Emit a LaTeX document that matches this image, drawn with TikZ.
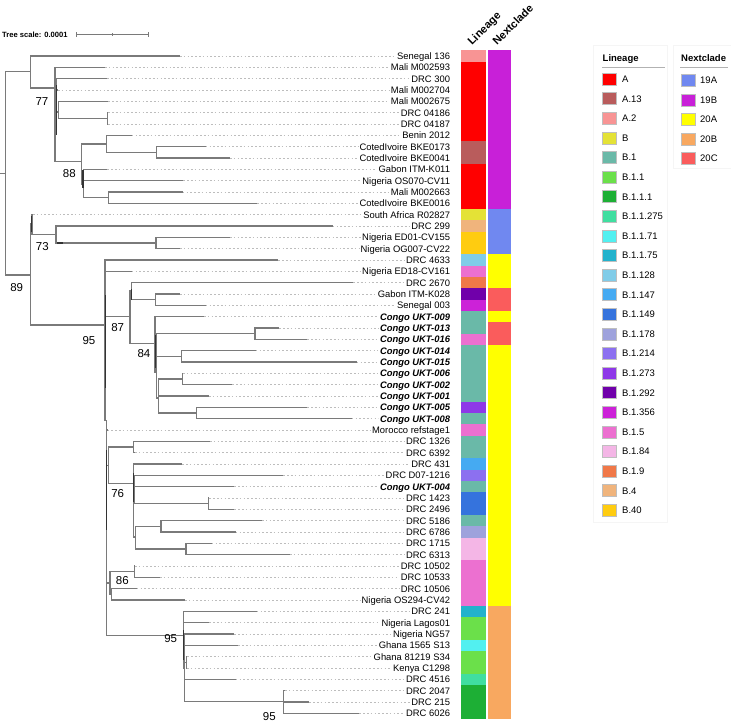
\documentclass[tikz,border=0pt]{standalone}
\usepackage{fontspec}
\setmainfont{Liberation Sans}
\definecolor{treegray}{HTML}{7A7A7A}
\definecolor{dotgray}{HTML}{BDBDBD}
\definecolor{cA}{HTML}{FF0000}
\definecolor{cAxiii}{HTML}{B95C5C}
\definecolor{cAii}{HTML}{F89494}
\definecolor{cB}{HTML}{E4E236}
\definecolor{cBi}{HTML}{6AB9A8}
\definecolor{cBii}{HTML}{6BE04A}
\definecolor{cBiii}{HTML}{1DAF35}
\definecolor{cBiiCCLXXV}{HTML}{40DEA0}
\definecolor{cBiiLXXI}{HTML}{52F0F0}
\definecolor{cBiiLXXV}{HTML}{22B2CC}
\definecolor{cBiCXXVIII}{HTML}{80CCE8}
\definecolor{cBiCXLVII}{HTML}{45AAF2}
\definecolor{cBiCXLIX}{HTML}{3573DD}
\definecolor{cBiCLXXVIII}{HTML}{9EA2DC}
\definecolor{cBiCCXIV}{HTML}{8C70F0}
\definecolor{cBiCCLXXIII}{HTML}{8E38E8}
\definecolor{cBiCCXCII}{HTML}{7000AA}
\definecolor{cBiCCCLVI}{HTML}{CC22D8}
\definecolor{cBiV}{HTML}{EC70D0}
\definecolor{cBiLXXXIV}{HTML}{F4B6E6}
\definecolor{cBiIX}{HTML}{F07848}
\definecolor{cBIV}{HTML}{F0B47C}
\definecolor{cBXL}{HTML}{FFCC10}
\definecolor{nxA}{HTML}{7088F0}
\definecolor{nxB}{HTML}{C820D8}
\definecolor{nyA}{HTML}{FFFF00}
\definecolor{nyB}{HTML}{F8A860}
\definecolor{nyC}{HTML}{FA5C5C}
\newcommand\lfn{\fontsize{9.4}{10}\selectfont}
\newcommand\lfc{\fontsize{9.4}{10}\selectfont\bfseries\itshape}
\begin{document}
\begin{tikzpicture}[x=1pt,y=-1pt,
  br/.style={draw=treegray,line width=1.1pt},
  dk/.style={draw=black!80,line width=1.2pt},
  dotl/.style={draw=dotgray,line width=0.8pt,dash pattern=on 1.6pt off 2.2pt},
  labn/.style={anchor=east,inner xsep=1.5pt,inner ysep=0pt,text height=6.8pt,text depth=0pt},
  boot/.style={font=\fontsize{11.5}{12}\selectfont,inner sep=0pt},
  sw/.style={draw=black!25,line width=0.4pt,minimum width=14pt,minimum height=12pt,inner sep=0pt},
  legl/.style={anchor=west,font=\fontsize{9.5}{10}\selectfont,inner sep=0pt,text height=6.8pt,text depth=0pt},
  legt/.style={anchor=west,font=\fontsize{9.5}{10}\selectfont\bfseries,inner sep=0pt,text height=7pt,text depth=2pt},
  hdr/.style={font=\fontsize{11}{12}\selectfont\bfseries,inner sep=0pt,rotate=45,anchor=base west}
]
\useasboundingbox (0,0) rectangle (731,723);
\fill[white] (0,0) rectangle (731,723);

% tree scale
\node[anchor=west,inner sep=0pt,font=\fontsize{7.6}{8}\selectfont\bfseries] (ts) at (2,34.3) {Tree scale: 0.0001};
\coordinate (s1) at (76,34.3);
\coordinate (s2) at (148.3,34.3);
\coordinate (s3) at (112.2,34.3);
\draw[treegray,line width=0.7pt] (s1) -- (s2);
\draw[treegray,line width=0.7pt] ([yshift=-2.5pt]s1) -- ([yshift=2.5pt]s1);
\draw[treegray,line width=0.7pt] ([yshift=-2.5pt]s2) -- ([yshift=2.5pt]s2);
\draw[treegray,line width=0.6pt] ([yshift=-1.2pt]s3) -- ([yshift=1.2pt]s3);

% color strips
\foreach \a/\b/\c in {1/1/cAii,2/8/cA,9/10/cAxiii,11/14/cA,15/15/cB,16/16/cBIV,17/18/cBXL,19/19/cBiCXXVIII,
  20/20/cBiV,21/21/cBiIX,22/22/cBiCCXCII,23/23/cBiCCCLVI,24/25/cBi,26/26/cBiV,27/31/cBi,32/32/cBiCCLXXIII,
  33/33/cBi,34/34/cBiV,35/36/cBi,37/37/cBiCXLVII,38/38/cBiCCXIV,39/39/cBi,40/41/cBiCXLIX,42/42/cBi,
  43/43/cBiCLXXVIII,44/45/cBiLXXXIV,46/49/cBiV,50/50/cBiiLXXV,51/52/cBii,53/53/cBiiLXXI,54/55/cBii,
  56/56/cBiiCCLXXV,57/59/cBiii}
  \fill[\c] (461,{50.33+11.333*(\a-1)}) rectangle (485.7,{50.33+11.333*\b});
\foreach \a/\b/\c in {1/14/nxB,15/18/nxA,19/21/nyA,22/23/nyC,24/24/nyA,25/26/nyC,27/49/nyA,50/59/nyB}
  \fill[\c] (487.7,{50.33+11.333*(\a-1)}) rectangle (511,{50.33+11.333*\b});

% headers
\node[hdr] (hL) at (472,46) {Lineage};
\node[hdr] (hN) at (497,46) {Nextclade};

% leaves
\foreach \i/\tx/\lab/\st in {
1/180/Senegal 136/\lfn,
2/105/Mali M002593/\lfn,
3/107.3/DRC 300/\lfn,
4/58/Mali M002704/\lfn,
5/108.3/Mali M002675/\lfn,
6/108.3/DRC 04186/\lfn,
7/108.3/DRC 04187/\lfn,
8/131.7/Benin 2012/\lfn,
9/205.7/CotedIvoire BKE0173/\lfn,
10/230/CotedIvoire BKE0041/\lfn,
11/107.3/Gabon ITM-K011/\lfn,
12/183.3/Nigeria OS070-CV11/\lfn,
13/182.7/Mali M002663/\lfn,
14/257.3/CotedIvoire BKE0016/\lfn,
15/33/South Africa R02827/\lfn,
16/332.7/DRC 299/\lfn,
17/230/Nigeria ED01-CV155/\lfn,
18/180/Nigeria OG007-CV22/\lfn,
19/278.3/DRC 4633/\lfn,
20/131.7/Nigeria ED18-CV161/\lfn,
21/353.3/DRC 2670/\lfn,
22/180/Gabon ITM-K028/\lfn,
23/205.7/Senegal 003/\lfn,
24/204/Congo UKT-009/\lfc,
25/279.3/Congo UKT-013/\lfc,
26/307.3/Congo UKT-016/\lfc,
27/255.7/Congo UKT-014/\lfc,
28/356.7/Congo UKT-015/\lfc,
29/183/Congo UKT-006/\lfc,
30/232.3/Congo UKT-002/\lfc,
31/209/Congo UKT-001/\lfc,
32/307.3/Congo UKT-005/\lfc,
33/351.7/Congo UKT-008/\lfc,
34/107.5/Morocco refstage1/\lfn,
35/210/DRC 1326/\lfn,
36/135/DRC 6392/\lfn,
37/182.2/DRC 431/\lfn,
38/283.3/DRC D07-1216/\lfn,
39/234.3/Congo UKT-004/\lfc,
40/209.3/DRC 1423/\lfn,
41/234.3/DRC 2496/\lfn,
42/262/DRC 5186/\lfn,
43/235.7/DRC 6786/\lfn,
44/211.7/DRC 1715/\lfn,
45/290/DRC 6313/\lfn,
46/135/DRC 10502/\lfn,
47/160/DRC 10533/\lfn,
48/136.7/DRC 10506/\lfn,
49/185/Nigeria OS294-CV42/\lfn,
50/256.7/DRC 241/\lfn,
51/209.3/Nigeria Lagos01/\lfn,
52/234.3/Nigeria NG57/\lfn,
53/238.3/Ghana 1565 S13/\lfn,
54/187.3/Ghana 81219 S34/\lfn,
55/187/Kenya C1298/\lfn,
56/235.7/DRC 4516/\lfn,
57/285/DRC 2047/\lfn,
58/309.3/DRC 215/\lfn,
59/359.3/DRC 6026/\lfn}
{
  \coordinate (T\i) at (\tx,{56+11.333*(\i-1)});
  \node[labn] (L\i) at (451.7,{56+11.333*(\i-1)}) {\st\lab};
  \draw[dotl] (T\i) -- (L\i.west);
}

% internal nodes
\coordinate (R0) at (0,173.3);
\coordinate (R) at (5.7,173.3);
\coordinate (NA) at (30.7,71.7);
\coordinate (NA1) at (55,88);
\coordinate (NA2) at (56.8,100);
\coordinate (NA3) at (58.5,112);
\coordinate (N0418) at (107.3,118.3);
\coordinate (N88) at (81.7,161.7);
\coordinate (NB) at (106.7,144);
\coordinate (NC) at (156.7,152.3);
\coordinate (N88b) at (83.2,184);
\coordinate (NM) at (108.3,197.7);
\coordinate (N89) at (30.7,275);
\coordinate (N89a) at (32,224);
\coordinate (N73) at (56,234.7);
\coordinate (NED) at (156,243);
\coordinate (N95) at (105,325);
\coordinate (N87) at (130,316.7);
\coordinate (N87a) at (131.5,291);
\coordinate (NG) at (155.7,299.7);
\coordinate (N84) at (155,343.3);
\coordinate (N84b) at (156.6,372);
\coordinate (N013) at (255,333.7);
\coordinate (N014) at (181.7,356.3);
\coordinate (N84c) at (158.3,398);
\coordinate (N006) at (182.3,379);
\coordinate (N005) at (196.7,413);
\coordinate (N95i) at (106.3,420);
\coordinate (N76p) at (108.3,465.3);
\coordinate (N1326) at (133.3,447);
\coordinate (N76) at (133.3,483.3);
\coordinate (N76a) at (134.4,490);
\coordinate (N1423) at (208.3,503.6);
\coordinate (N76b) at (135.6,537);
\coordinate (N5186) at (161,526.3);
\coordinate (N1715) at (186,549);
\coordinate (N86) at (110,583);
\coordinate (N10502) at (134.3,571.6);
\coordinate (N86b) at (111.4,594.3);
\coordinate (N95b) at (183.3,635.7);
\coordinate (N95c) at (184.6,668);
\coordinate (N95d) at (186.2,662.3);
\coordinate (N2047) at (283.3,701.8);

\draw[br] (R0) -- (R);
\foreach \p/\c in {R/NA,R/N89,NA/T1,NA/NA1,NA1/T2,NA1/NA2,NA1/N88,NA2/T3,NA2/T4,NA2/NA3,NA3/T5,NA3/N0418,
  N0418/T6,N0418/T7,N88/NB,N88/N88b,NB/T8,NB/NC,NC/T9,NC/T10,N88b/T11,N88b/T12,N88b/NM,NM/T13,NM/T14,
  N89/N89a,N89/N95,N89a/T15,N89a/N73,N73/T16,N73/NED,NED/T17,NED/T18,
  N95/T19,N95/T20,N95/N87,N95/N95i,N87/N87a,N87/N84,N87a/T21,N87a/NG,NG/T22,NG/T23,
  N84/T24,N84/N84b,N84b/N013,N84b/N014,N84b/N84c,N013/T25,N013/T26,N014/T27,N014/T28,
  N84c/N006,N84c/T31,N84c/N005,N006/T29,N006/T30,N005/T32,N005/T33,
  N95i/T34,N95i/N76p,N95i/N86,N95i/N95b,N76p/N1326,N76p/N76,N1326/T35,N1326/T36,
  N76/T37,N76/N76a,N76/N76b,N76a/T38,N76a/T39,N76a/N1423,N1423/T40,N1423/T41,
  N76b/N5186,N76b/N1715,N5186/T42,N5186/T43,N1715/T44,N1715/T45,
  N86/N10502,N86/N86b,N10502/T46,N10502/T47,N86b/T48,N86b/T49,
  N95b/T50,N95b/T51,N95b/N95c,N95c/T52,N95c/T53,N95c/N95d,N95c/T56,N95c/N2047,
  N95d/T54,N95d/T55,N2047/T57,N2047/T58,N2047/T59}
  \draw[br] (\p) |- (\c);

% short dark (near-zero) branches
\draw[dk] (56.6,85) -- (56.6,135);
\draw[dk] (83,170) -- (83,188);
\draw[dk] (31.8,216) -- (31.8,232);
\draw[dk] (56.5,243) -- (63.3,243);
\draw[dk] (105.3,295) -- (105.3,388);
\draw[dk] (131.2,289) -- (131.2,300);
\draw[dk] (155.4,335) -- (155.4,368);
\draw[dk] (106.3,450) -- (106.3,530);
\draw[dk] (133.6,473) -- (133.6,502);
\draw[dk] (183.6,630) -- (183.6,660);

% bootstrap values
\node[boot] (b77) at (42,101.7) {77};
\node[boot] (b88) at (69.3,174) {88};
\node[boot] (b73) at (42.3,246.7) {73};
\node[boot] (b89) at (16.7,288) {89};
\node[boot] (b95a) at (89,340.7) {95};
\node[boot] (b87) at (117.7,327.7) {87};
\node[boot] (b84) at (144,354) {84};
\node[boot] (b76) at (117.7,494) {76};
\node[boot] (b86) at (122.3,581) {86};
\node[boot] (b95b) at (170.7,638.3) {95};
\node[boot] (b95c) at (269.3,716.7) {95};

% legends
\draw[draw=black!4,line width=0.6pt] (593,45) rectangle (667,522);
\node[legt] (lgL) at (602.5,59) {Lineage};
\draw[black!30,line width=0.7pt] (602,67) -- (665,67);
\foreach \k/\c/\t in {0/cA/A,1/cAxiii/A.13,2/cAii/A.2,3/cB/B,4/cBi/B.1,5/cBii/B.1.1,6/cBiii/B.1.1.1,
  7/cBiiCCLXXV/B.1.1.275,8/cBiiLXXI/B.1.1.71,9/cBiiLXXV/B.1.1.75,10/cBiCXXVIII/B.1.128,
  11/cBiCXLVII/B.1.147,12/cBiCXLIX/B.1.149,13/cBiCLXXVIII/B.1.178,14/cBiCCXIV/B.1.214,
  15/cBiCCLXXIII/B.1.273,16/cBiCCXCII/B.1.292,17/cBiCCCLVI/B.1.356,18/cBiV/B.1.5,
  19/cBiLXXXIV/B.1.84,20/cBiIX/B.1.9,21/cBIV/B.4,22/cBXL/B.40}
{
  \node[sw,fill=\c] (ls\k) at (609,{79+19.6*\k}) {};
  \node[legl] (lt\k) at (622,{79+19.6*\k}) {\t};
}
\draw[draw=black!4,line width=0.6pt] (673,45) rectangle (731,168);
\node[legt] (lgN) at (681,59) {Nextclade};
\draw[black!30,line width=0.7pt] (680,67) -- (728,67);
\foreach \k/\c/\t in {0/nxA/19A,1/nxB/19B,2/nyA/20A,3/nyB/20B,4/nyC/20C}
{
  \node[sw,fill=\c] (ns\k) at (688,{80.5+19.45*\k}) {};
  \node[legl] (nt\k) at (700,{80.5+19.45*\k}) {\t};
}
\end{tikzpicture}
\end{document}
